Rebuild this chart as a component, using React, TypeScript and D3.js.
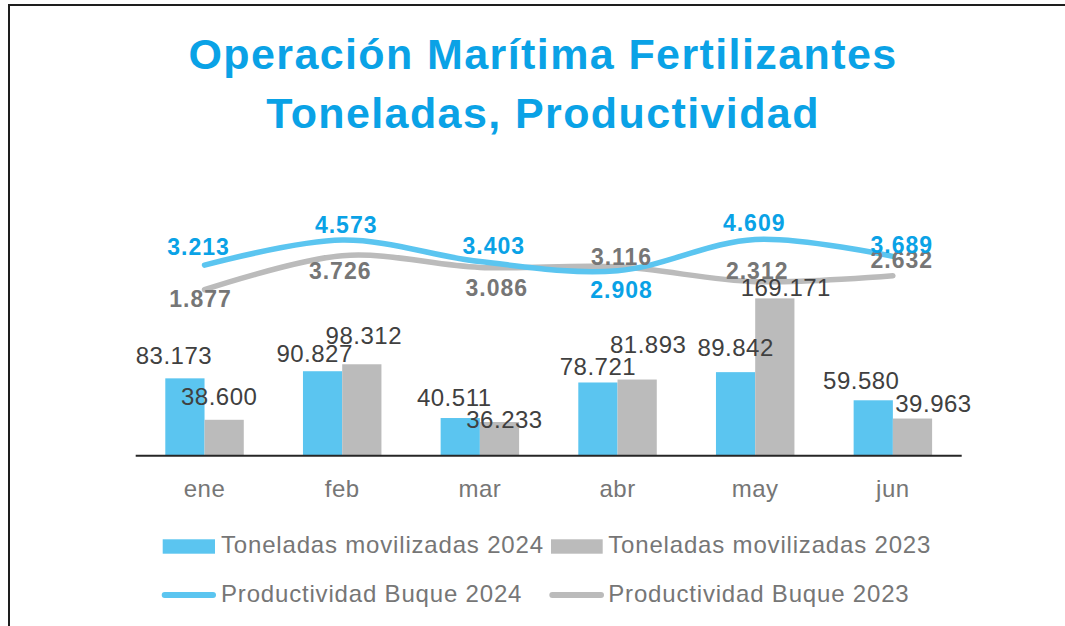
import React from 'react';
import * as d3 from 'd3';

const months = ['ene', 'feb', 'mar', 'abr', 'may', 'jun'];
const tons2024 = [83173, 90827, 40511, 78721, 89842, 59580];
const tons2023 = [38600, 98312, 36233, 81893, 169171, 39963];
const prod2024 = [3213, 4573, 3403, 2908, 4609, 3689];
const prod2023 = [1877, 3726, 3086, 3116, 2312, 2632];

// label nudges (dx, dy) relative to bar top / line point, as placed in the original
const barLblOff2024 = [[-11, -14], [-8, -9], [-6, -12], [0, -7], [0, -16], [-12, -11]];
const barLblOff2023 = [[-5, -15], [2, -20], [5, 6], [11, -27], [11, -2], [21, -7]];
const lineLblOff2024 = [[-6, -10], [4, -7], [14, -8], [4, 27], [-1, -8], [9, -3]];
const lineLblOff2023 = [[-4, 17], [-2, 23], [17, 29], [4, -2], [2, -3], [9, -8]];

const W = 1065;
const H = 626;
const BLUE = '#5bc5f0';
const GRAY = '#bbbbbb';
const TITLE_BLUE = '#0aa2e6';
const TEXT_GRAY = '#767676';
const FONT = '"Liberation Sans", Arial, sans-serif';

const es = d3.formatLocale({ decimal: ',', thousands: '.', grouping: [3], currency: ['$', ''] });
const fmt = es.format(',d');

export default function App() {
  const base = 455.7;
  const x = d3.scaleBand<string>().domain(months).range([135.7, 961.7]).paddingInner(0.43).paddingOuter(0.215);
  const xs = d3.scaleBand<string>().domain(['2024', '2023']).range([0, x.bandwidth()]);
  const yBar = d3.scaleLinear().domain([0, 180000]).range([base, base - 167.4]);
  const yLine = d3.scaleLinear().domain([0, 5000]).range([324.2, 232.2]);
  const cx = (m: string) => (x(m) as number) + x.bandwidth() / 2;

  const line = d3.line<number>()
    .x((_, i) => cx(months[i]))
    .y(d => yLine(d))
    .curve(d3.curveCardinal.tension(0));

  const barSeries = [
    { key: '2024', vals: tons2024, color: BLUE, off: barLblOff2024 },
    { key: '2023', vals: tons2023, color: GRAY, off: barLblOff2023 },
  ];
  const lineSeries = [
    { vals: prod2023, color: GRAY, lbl: TEXT_GRAY, off: lineLblOff2023 },
    { vals: prod2024, color: BLUE, lbl: TITLE_BLUE, off: lineLblOff2024 },
  ];

  return (
    <div style={{ position: 'absolute', left: 0, top: 0 }}>
      <svg width={W} height={H} style={{ display: 'block', background: '#fff' }} fontFamily={FONT}>
        <path d={`M9,${H} V5 H${W}`} fill="none" stroke="#1e1e1e" strokeWidth={2} />

        <text x={543} y={69} textAnchor="middle" fontSize={43} fontWeight="bold" fill={TITLE_BLUE} letterSpacing={1.4}>
          Operación Marítima Fertilizantes
        </text>
        <text x={543} y={128} textAnchor="middle" fontSize={43} fontWeight="bold" fill={TITLE_BLUE} letterSpacing={1.4}>
          Toneladas, Productividad
        </text>

        {barSeries.map(s => (
          <g key={s.key}>
            {s.vals.map((v, i) => (
              <rect key={i}
                x={(x(months[i]) as number) + (xs(s.key) as number)}
                y={yBar(v)}
                width={xs.bandwidth()}
                height={base - yBar(v)}
                fill={s.color} />
            ))}
          </g>
        ))}

        <line x1={135.7} x2={961.7} y1={base} y2={base} stroke="#262626" strokeWidth={2} />

        {months.map(m => (
          <text key={m} x={cx(m)} y={496.7} textAnchor="middle" fontSize={24} letterSpacing={0.5} fill={TEXT_GRAY}>{m}</text>
        ))}

        {lineSeries.map((s, k) => (
          <path key={k} d={line(s.vals) || ''} fill="none" stroke={s.color} strokeWidth={5.5} strokeLinecap="round" />
        ))}

        {barSeries.map(s => (
          <g key={'l' + s.key}>
            {s.vals.map((v, i) => (
              <text key={i}
                x={(x(months[i]) as number) + (xs(s.key) as number) + xs.bandwidth() / 2 + s.off[i][0]}
                y={yBar(v) + s.off[i][1]}
                textAnchor="middle" fontSize={24} letterSpacing={0.5} fill="#404040">
                {fmt(v)}
              </text>
            ))}
          </g>
        ))}

        {lineSeries.map((s, k) => (
          <g key={'ll' + k}>
            {s.vals.map((v, i) => (
              <text key={i}
                x={cx(months[i]) + s.off[i][0]}
                y={yLine(v) + s.off[i][1]}
                textAnchor="middle" fontSize={23} fontWeight="bold" letterSpacing={1} fill={s.lbl}>
                {fmt(v)}
              </text>
            ))}
          </g>
        ))}

        {/* legend */}
        <g fontSize={24} letterSpacing={0.82} fill={TEXT_GRAY}>
          <rect x={162.7} y={539.3} width={52.3} height={14.4} fill={BLUE} />
          <text x={221} y={553.3}>Toneladas movilizadas 2024</text>
          <rect x={551} y={539.3} width={51.7} height={14.4} fill={GRAY} />
          <text x={608.3} y={553.3}>Toneladas movilizadas 2023</text>
          <line x1={164.7} x2={213} y1={595} y2={595} stroke={BLUE} strokeWidth={6} strokeLinecap="round" />
          <text x={221} y={601.7}>Productividad Buque 2024</text>
          <line x1={552.3} x2={601} y1={595} y2={595} stroke={GRAY} strokeWidth={6} strokeLinecap="round" />
          <text x={608.3} y={601.7}>Productividad Buque 2023</text>
        </g>
      </svg>
    </div>
  );
}
